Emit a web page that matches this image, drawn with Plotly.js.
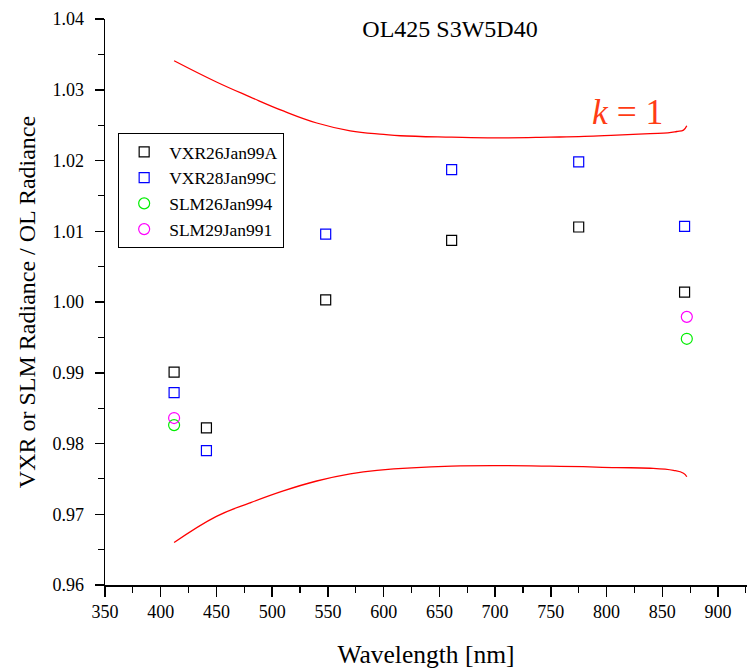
<!DOCTYPE html>
<html>
<head>
<meta charset="utf-8">
<script src="https://cdn.plot.ly/plotly-3.0.1.min.js"></script>
<style>
html,body{margin:0;padding:0;background:#fff;}
#chart{width:747px;height:671px;}
</style>
</head>
<body>
<div id="chart"></div>
<script>
// Data
const vxrWl = [412, 441, 548, 661, 775, 870];
const vxr26A = [0.9901, 0.9822, 1.0003, 1.0087, 1.0106, 1.0014];
const vxr28C = [0.9872, 0.9790, 1.0096, 1.0187, 1.0198, 1.0107];
const slmWl = [412, 872];
const slm26 = [0.9826, 0.9948];
const slm29 = [0.9836, 0.9979];

const upperWl = [412, 450, 480, 510, 540, 570, 600, 615, 661, 700, 749, 780, 809, 839, 855, 863, 869, 872];
const upperVal = [1.0341, 1.0311, 1.0290, 1.0270, 1.0253, 1.0242, 1.0237, 1.0235, 1.0233, 1.0232, 1.0233, 1.0234, 1.0236, 1.0238, 1.0239, 1.0241, 1.0243, 1.0249];
const lowerWl = [412, 450, 480, 510, 540, 570, 594, 661, 749, 809, 839, 860, 869, 872];
const lowerVal = [0.9660, 0.9697, 0.9716, 0.9733, 0.9747, 0.9757, 0.9762, 0.9768, 0.9768, 0.9766, 0.9765, 0.9762, 0.9758, 0.9753];

const seriesNames = ['VXR26Jan99A', 'VXR28Jan99C', 'SLM26Jan994', 'SLM29Jan991'];
const xTickVals = [350, 400, 450, 500, 550, 600, 650, 700, 750, 800, 850, 900];
const yTickVals = [0.96, 0.97, 0.98, 0.99, 1.00, 1.01, 1.02, 1.03, 1.04];
const yTickText = ['0.96', '0.97', '0.98', '0.99', '1.00', '1.01', '1.02', '1.03', '1.04'];

const serif = "Liberation Serif";

function pts(name, x, y, symbol, color, size) {
  return {
    type: 'scatter', mode: 'markers', name: name, x: x, y: y,
    marker: {symbol: symbol, size: size, color: color, line: {color: color, width: 1.2}},
    hoverinfo: 'skip'
  };
}

const traces = [
  {type: 'scatter', mode: 'lines', x: upperWl, y: upperVal, line: {color: '#ff0000', width: 1.3, shape: 'spline', smoothing: 1.2}, showlegend: false, hoverinfo: 'skip'},
  {type: 'scatter', mode: 'lines', x: lowerWl, y: lowerVal, line: {color: '#ff0000', width: 1.3, shape: 'spline', smoothing: 1.2}, showlegend: false, hoverinfo: 'skip'},
  pts(seriesNames[0], vxrWl, vxr26A, 'square-open', '#000000', 10),
  pts(seriesNames[1], vxrWl, vxr28C, 'square-open', '#0000ff', 10),
  pts(seriesNames[2], slmWl, slm26, 'circle-open', '#00ee00', 11),
  pts(seriesNames[3], slmWl, slm29, 'circle-open', '#ff00ff', 11)
];

const layout = {
  width: 747, height: 671,
  margin: {l: 105, r: 0, t: 19, b: 86},
  paper_bgcolor: '#ffffff', plot_bgcolor: '#ffffff',
  font: {family: serif, color: '#000000', size: 18},
  showlegend: true,
  title: {text: 'OL425 S3W5D40', font: {family: serif, size: 24, color: '#000'}, x: 0.6024, xref: 'container', xanchor: 'center', y: 0.957, yref: 'container', yanchor: 'middle'},
  xaxis: {
    range: [350, 926], showgrid: false, zeroline: false,
    showline: true, linecolor: '#000', linewidth: 1.5,
    ticks: 'outside', ticklen: 10, tickwidth: 1.5, tickcolor: '#000',
    tickvals: xTickVals, tickfont: {family: serif, size: 18, color: '#000'},
    minor: {dtick: 25, tick0: 350, ticks: 'outside', ticklen: 6, tickwidth: 1.2, tickcolor: '#000', showgrid: false},
    title: {text: 'Wavelength [nm]', font: {family: serif, size: 25.5, color: '#000'}, standoff: 24}
  },
  yaxis: {
    range: [0.96, 1.04], showgrid: false, zeroline: false,
    showline: true, linecolor: '#000', linewidth: 1.5,
    ticks: 'outside', ticklen: 9, tickwidth: 1.5, tickcolor: '#000',
    tickvals: yTickVals, ticktext: yTickText, tickfont: {family: serif, size: 18, color: '#000'},
    ticklabelstandoff: 7,
    minor: {dtick: 0.005, tick0: 0.96, ticks: 'outside', ticklen: 6, tickwidth: 1.2, tickcolor: '#000', showgrid: false},
    title: {text: 'VXR or SLM Radiance / OL Radiance', font: {family: serif, size: 24, color: '#000'}, standoff: 10}
  },
  legend: {
    x: 0.0205, y: 0.7986, xanchor: 'left', yanchor: 'top',
    bordercolor: '#000', borderwidth: 1, bgcolor: '#fff',
    font: {family: serif, size: 17.5, color: '#000'},
    traceorder: 'normal', itemwidth: 40
  },
  annotations: [{
    xref: 'paper', yref: 'paper', x: (627 - 105) / 642, y: 1 - (112 - 19) / 566,
    text: '<i>k</i> = 1', showarrow: false, xanchor: 'center', yanchor: 'middle',
    font: {family: serif, size: 35.5, color: '#ff3c14'}
  }]
};

Plotly.newPlot('chart', traces, layout, {displayModeBar: false, staticPlot: true});
</script>
</body>
</html>
